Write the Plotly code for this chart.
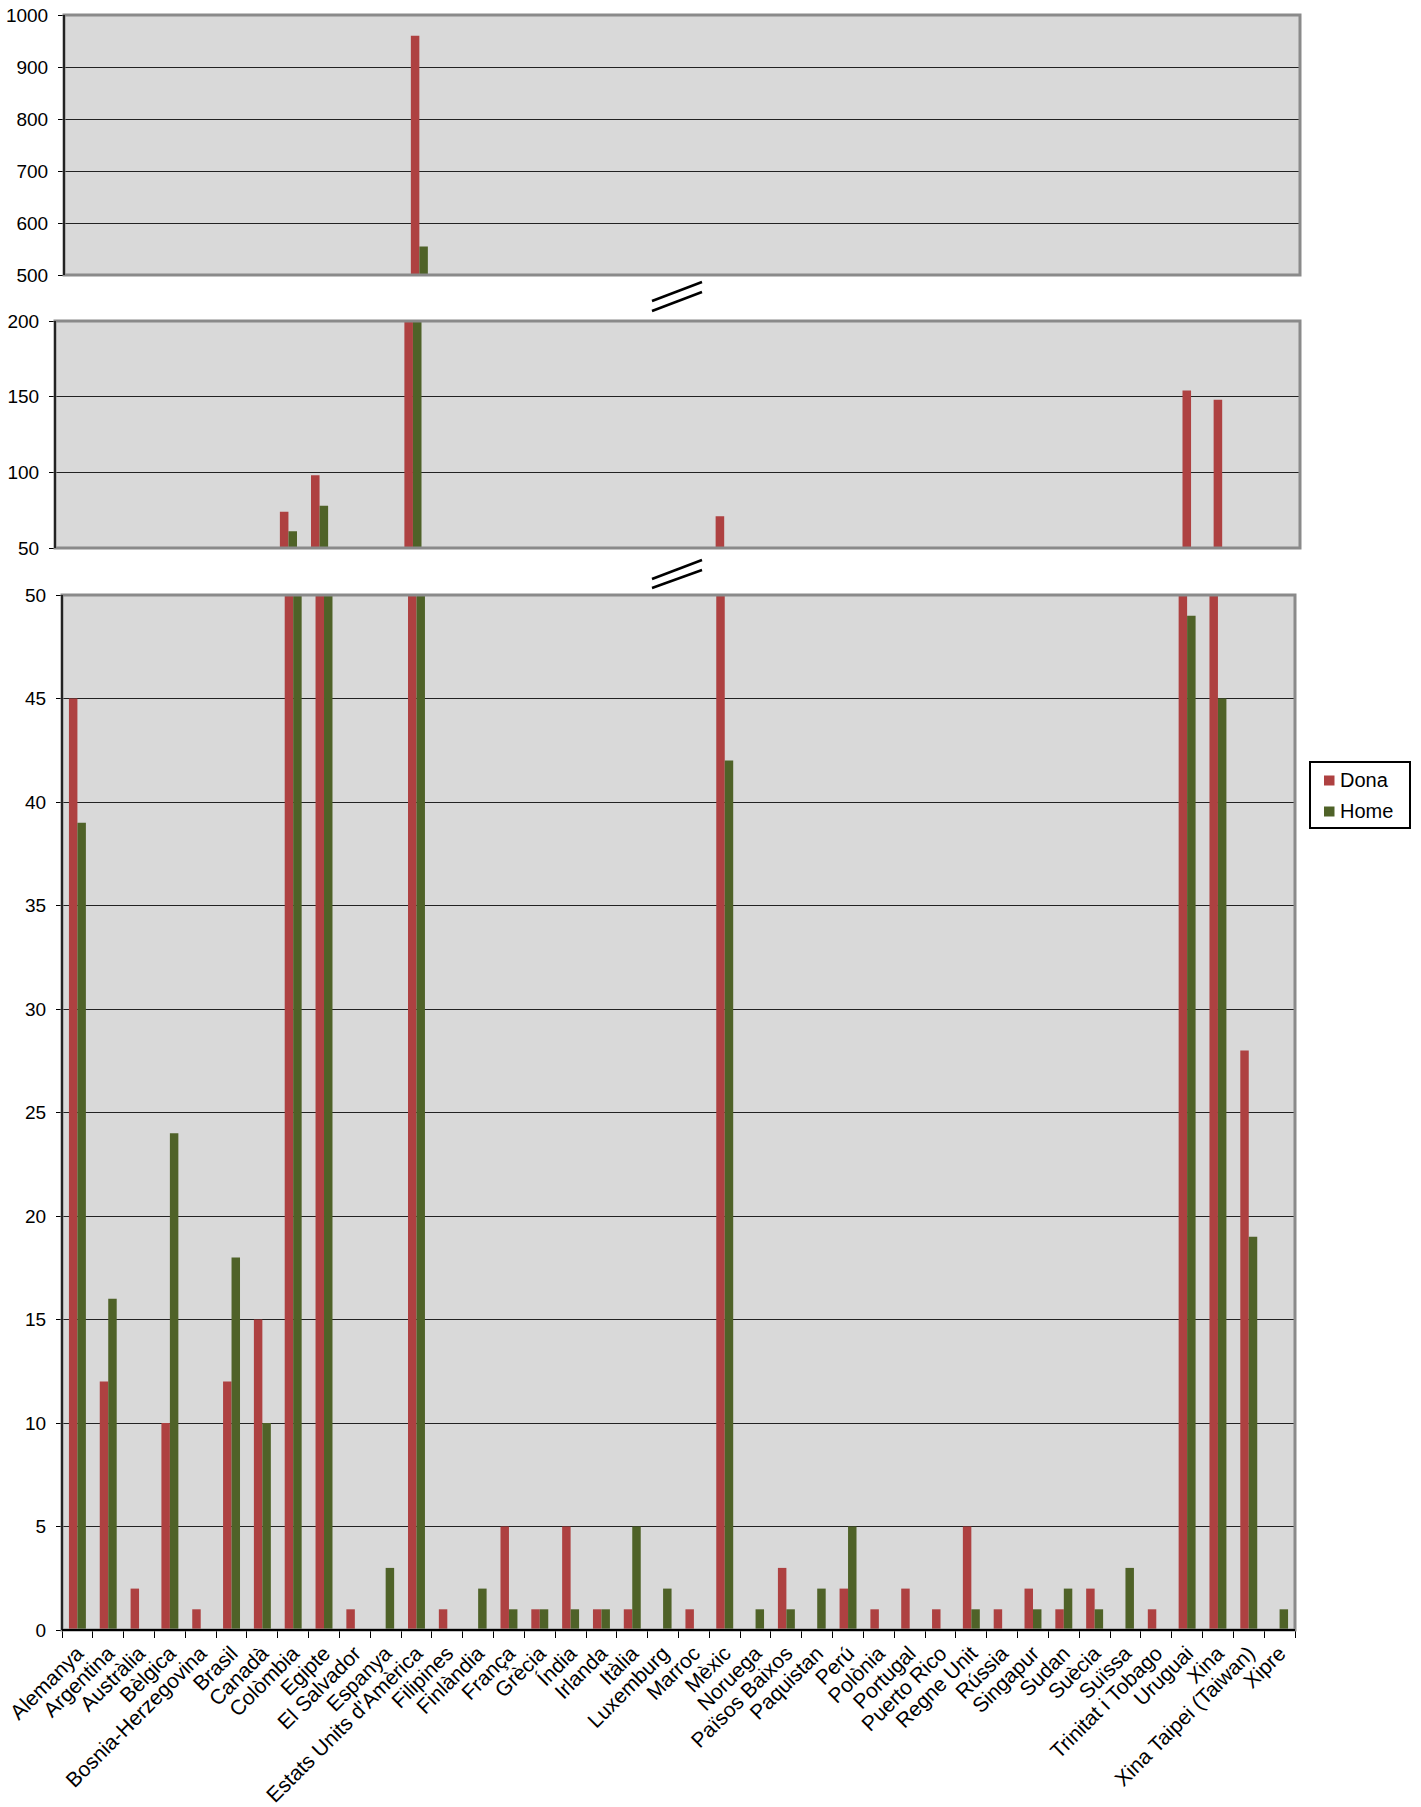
import plotly.graph_objects as go

categories = ["Alemanya", "Argentina", "Austràlia", "Bèlgica", "Bosnia-Herzegovina", "Brasil",
              "Canadà", "Colòmbia", "Egipte", "El Salvador", "Espanya", "Estats Units d'Amèrica",
              "Filipines", "Finlàndia", "França", "Grècia", "Índia", "Irlanda", "Itàlia",
              "Luxemburg", "Marroc", "Mèxic", "Noruega", "Països Baixos", "Paquistan", "Perú",
              "Polònia", "Portugal", "Puerto Rico", "Regne Unit", "Rússia", "Singapur", "Sudan",
              "Suècia", "Suïssa", "Trinitat i Tobago", "Uruguai", "Xina", "Xina Taipei (Taiwan)",
              "Xipre"]
dona = [45, 12, 2, 10, 1, 12, 15, 74, 98, 1, 0, 960, 1, 0, 5, 1, 5, 1, 1, 0, 1, 71, 0, 3, 0, 2,
        1, 2, 1, 5, 1, 2, 1, 2, 0, 1, 154, 148, 28, 0]
home = [39, 16, 0, 24, 0, 18, 10, 61, 78, 0, 3, 555, 0, 2, 1, 1, 1, 1, 5, 2, 0, 42, 1, 1, 2, 5,
        0, 0, 0, 1, 0, 1, 2, 1, 3, 0, 49, 45, 19, 1]
series_names = ["Dona", "Home"]
top_ticks = [500, 600, 700, 800, 900, 1000]
mid_ticks = [50, 100, 150, 200]
bot_ticks = list(range(0, 55, 5))

W, H = 1421, 1807
RED = "#AE4141"
GREEN = "#4F6228"
FONT = "Liberation Sans, Arial, sans-serif"


def px(x):
    return x / W


def py(y):
    return 1 - y / H


fig = go.Figure()
panels = [("x", "y"), ("x2", "y2"), ("x3", "y3")]
for i, (xa, ya) in enumerate(panels):
    for name, vals, col in [(series_names[0], dona, RED), (series_names[1], home, GREEN)]:
        fig.add_trace(go.Bar(x=categories, y=vals, name=name, marker_color=col,
                             marker_line_width=0, xaxis=xa, yaxis=ya,
                             showlegend=False))

# panel pixel boxes: (left, right, top, bottom)
boxes = {
    "top": (64, 1300, 15, 275),
    "mid": (55, 1300, 321, 548),
    "bot": (62, 1295, 595, 1630),
}

common_y = dict(showgrid=True, gridcolor="#222222", gridwidth=1.3, zeroline=False,
                ticks="outside", ticklen=5, tickcolor="black", tickwidth=1,
                tickfont=dict(family=FONT, size=19, color="black"), ticklabelstandoff=6,
                ticklabeloverflow="allow", showline=False, automargin=False)
common_x = dict(type="category", range=[-0.5, len(categories) - 0.5], showgrid=False,
                zeroline=False, showline=False, automargin=False)

l, r, t, b = boxes["top"]
fig.update_layout(
    xaxis=dict(domain=[px(l), px(r)], anchor="y", showticklabels=False, ticks="", **common_x),
    yaxis=dict(domain=[py(b), py(t)], anchor="x", range=[500, 1000], tickvals=top_ticks, **common_y),
)
l, r, t, b = boxes["mid"]
fig.update_layout(
    xaxis2=dict(domain=[px(l), px(r)], anchor="y2", showticklabels=False, ticks="", **common_x),
    yaxis2=dict(domain=[py(b), py(t)], anchor="x2", range=[50, 200], tickvals=mid_ticks, **common_y),
)
l, r, t, b = boxes["bot"]
fig.update_layout(
    xaxis3=dict(domain=[px(l), px(r)], anchor="y3", showticklabels=True, ticks="outside",
                tickson="boundaries", ticklen=7, tickcolor="black", tickangle=-45,
                ticklabelstandoff=6, ticklabeloverflow="allow",
                tickfont=dict(family=FONT, size=21, color="black"), **common_x),
    yaxis3=dict(domain=[py(b), py(t)], anchor="x3", range=[0, 50], tickvals=bot_ticks, **common_y),
)

shapes = []
for key, (xa, ya) in zip(["top", "mid", "bot"], panels):
    xd = xa + " domain"
    yd = ya + " domain"
    shapes.append(dict(type="rect", xref=xd, yref=yd, x0=0, x1=1, y0=0, y1=1,
                       line=dict(color="#8a8a8a", width=3), layer="above"))
    shapes.append(dict(type="line", xref=xd, yref=yd, x0=0, x1=0, y0=0, y1=1,
                       line=dict(color="black", width=1.5), layer="above"))
shapes.append(dict(type="line", xref="x3 domain", yref="y3 domain", x0=0, x1=1, y0=0, y1=0,
                   line=dict(color="black", width=2), layer="above"))

# axis break marks
for (x0, y0, x1, y1) in [(652, 301, 702, 282), (652, 311, 702, 292),
                         (652, 579, 702, 560), (652, 588, 702, 570)]:
    shapes.append(dict(type="line", xref="paper", yref="paper", x0=px(x0), y0=py(y0),
                       x1=px(x1), y1=py(y1), line=dict(color="black", width=2.5)))

# legend box (drawn by hand to match the original's compact layout)
shapes.append(dict(type="rect", xref="paper", yref="paper", x0=px(1310), x1=px(1410),
                   y0=py(828), y1=py(762), line=dict(color="black", width=2),
                   fillcolor="white", layer="above"))
annotations = []
for name, col, yc in [(series_names[0], RED, 780.5), (series_names[1], GREEN, 811.5)]:
    shapes.append(dict(type="rect", xref="paper", yref="paper", x0=px(1324), x1=px(1334.5),
                       y0=py(yc + 5), y1=py(yc - 5), line=dict(width=0), fillcolor=col,
                       layer="above"))
    annotations.append(dict(xref="paper", yref="paper", x=px(1338), y=py(yc - 1), text=name,
                            showarrow=False, xanchor="left", yanchor="middle",
                            font=dict(family=FONT, size=20, color="black")))

fig.update_layout(
    width=W, height=H,
    margin=dict(l=0, r=0, t=0, b=0, autoexpand=False),
    paper_bgcolor="white",
    plot_bgcolor="#D9D9D9",
    barmode="group",
    bargap=0.45,
    bargroupgap=0,
    shapes=shapes,
    annotations=annotations,
    showlegend=False,
    font=dict(family=FONT, color="black"),
)

fig.write_html("out.html", config={"displayModeBar": False},
               post_script="document.body.style.margin='0';")
